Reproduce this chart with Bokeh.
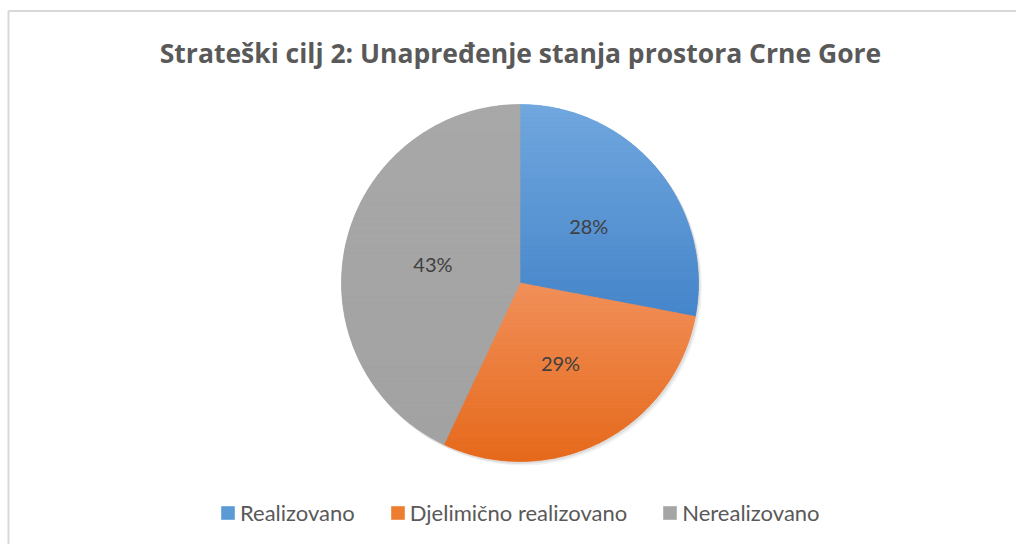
import numpy as np
from bokeh.plotting import figure
from bokeh.models import Range1d, ColumnDataSource, Legend, LegendItem
from bokeh.core.properties import value
from bokeh.embed import file_html
from bokeh.resources import INLINE

# ---- data ----
title_text = "Strateški cilj 2: Unapređenje stanja prostora Crne Gore"
categories = ["Realizovano", "Djelimično realizovano", "Nerealizovano"]
shares = [28, 29, 43]
labels = ["28%", "29%", "43%"]

# ---- styles ----
colors = ["#5B9BD5", "#ED7D31", "#A5A5A5"]
top_colors = ["#71A7DE", "#F1905A", "#A8A8A8"]
bottom_colors = ["#4585CA", "#E6691B", "#A2A2A2"]

# ---- layout (pixels) ----
W, H = 1016, 544
CX, CY, R = 519.5, 261.5, 178.5
FONT = "Lato"

p = figure(width=W, height=H, x_range=Range1d(0, W), y_range=Range1d(0, H),
           output_backend="svg", toolbar_location=None, min_border=0,
           tools="")
p.axis.visible = False
p.grid.visible = False
p.outline_line_color = None
p.background_fill_color = "white"
p.border_fill_color = "white"

# chart-area border (top and left visible in the reference)
p.line(x=[8, 8, W], y=[0, 533.5, 533.5], line_color="#D9D9D9", line_width=2)

frac = np.array(shares, dtype=float) / np.sum(shares)
cum = np.concatenate([[0], np.cumsum(frac)])
start = np.pi / 2 - 2 * np.pi * cum[:-1]
end = np.pi / 2 - 2 * np.pi * cum[1:]
mid = (start + end) / 2

# soft shadow
for dx, dy, a in [(3.0, -3.5, 0.05), (1.5, -2.0, 0.08)]:
    p.circle(x=[CX + dx], y=[CY + dy], radius=R + 0.5, fill_color="black",
             fill_alpha=a, line_color=None)

# solid wedges (also used by the legend)
wedges = []
for i in range(len(categories)):
    r = p.wedge(x=CX, y=CY, radius=R, start_angle=start[i], end_angle=end[i],
                direction="clock", fill_color=colors[i], line_color=None)
    wedges.append(r)


def hex2rgb(h):
    h = h.lstrip("#")
    return np.array([int(h[k:k + 2], 16) for k in (0, 2, 4)], dtype=float)


def clip(poly, lo, hi):
    def clip_half(pts, yb, keep_above):
        out = []
        n = len(pts)
        for k in range(n):
            a = pts[k]
            b = pts[(k + 1) % n]
            ina = a[1] >= yb if keep_above else a[1] <= yb
            inb = b[1] >= yb if keep_above else b[1] <= yb
            if ina:
                out.append(a)
            if ina != inb:
                t = (yb - a[1]) / (b[1] - a[1])
                out.append((a[0] + t * (b[0] - a[0]), yb))
        return out
    pts = clip_half(poly, lo, True)
    if pts:
        pts = clip_half(pts, hi, False)
    return pts


# vertical gradient shading of each slice, drawn as horizontal bands
xs_all, ys_all, cols_all = [], [], []
NB = 48
for i in range(len(categories)):
    th = np.linspace(start[i], end[i], 200)
    poly = [(CX, CY)] + [(CX + R * np.cos(t), CY + R * np.sin(t)) for t in th]
    ymin = min(q[1] for q in poly)
    ymax = max(q[1] for q in poly)
    c_top, c_bot = hex2rgb(top_colors[i]), hex2rgb(bottom_colors[i])
    edges = np.linspace(ymin, ymax, NB + 1)
    for b in range(NB):
        pts = clip(poly, edges[b], edges[b + 1])
        if len(pts) < 3:
            continue
        f = (0.5 * (edges[b] + edges[b + 1]) - ymin) / (ymax - ymin)
        c = c_bot + (c_top - c_bot) * f
        cols_all.append("#%02x%02x%02x" % tuple(int(round(v)) for v in c))
        xs_all.append([q[0] for q in pts])
        ys_all.append([q[1] for q in pts])

p.patches(xs=xs_all, ys=ys_all, fill_color=cols_all, line_color=cols_all,
          line_width=0.6)

src = ColumnDataSource(dict(lx=CX + 0.5 * R * np.cos(mid), ly=CY + 0.5 * R * np.sin(mid),
                            lab=labels))
p.text(x="lx", y="ly", text="lab", source=src, text_align="center",
       text_baseline="middle", text_font=value(FONT), text_font_size="20px",
       text_color="#404040")

p.text(x=[520], y=[492], text=[title_text], text_align="center",
       text_baseline="middle", text_font=value("Open Sans"), text_font_size="26.5px",
       text_font_style="bold", text_color="#595959")

legend = Legend(items=[LegendItem(label=c, renderers=[w]) for c, w in zip(categories, wedges)],
                orientation="horizontal", location=(219, 18),
                glyph_width=17, glyph_height=17, label_standoff=4, spacing=34,
                padding=0, margin=0, border_line_color=None,
                background_fill_alpha=0, label_text_font=FONT,
                label_text_font_size="22px", label_text_color="#595959",
                label_height=22)
p.add_layout(legend, "center")

open("out.html", "w").write(file_html(p, INLINE))
